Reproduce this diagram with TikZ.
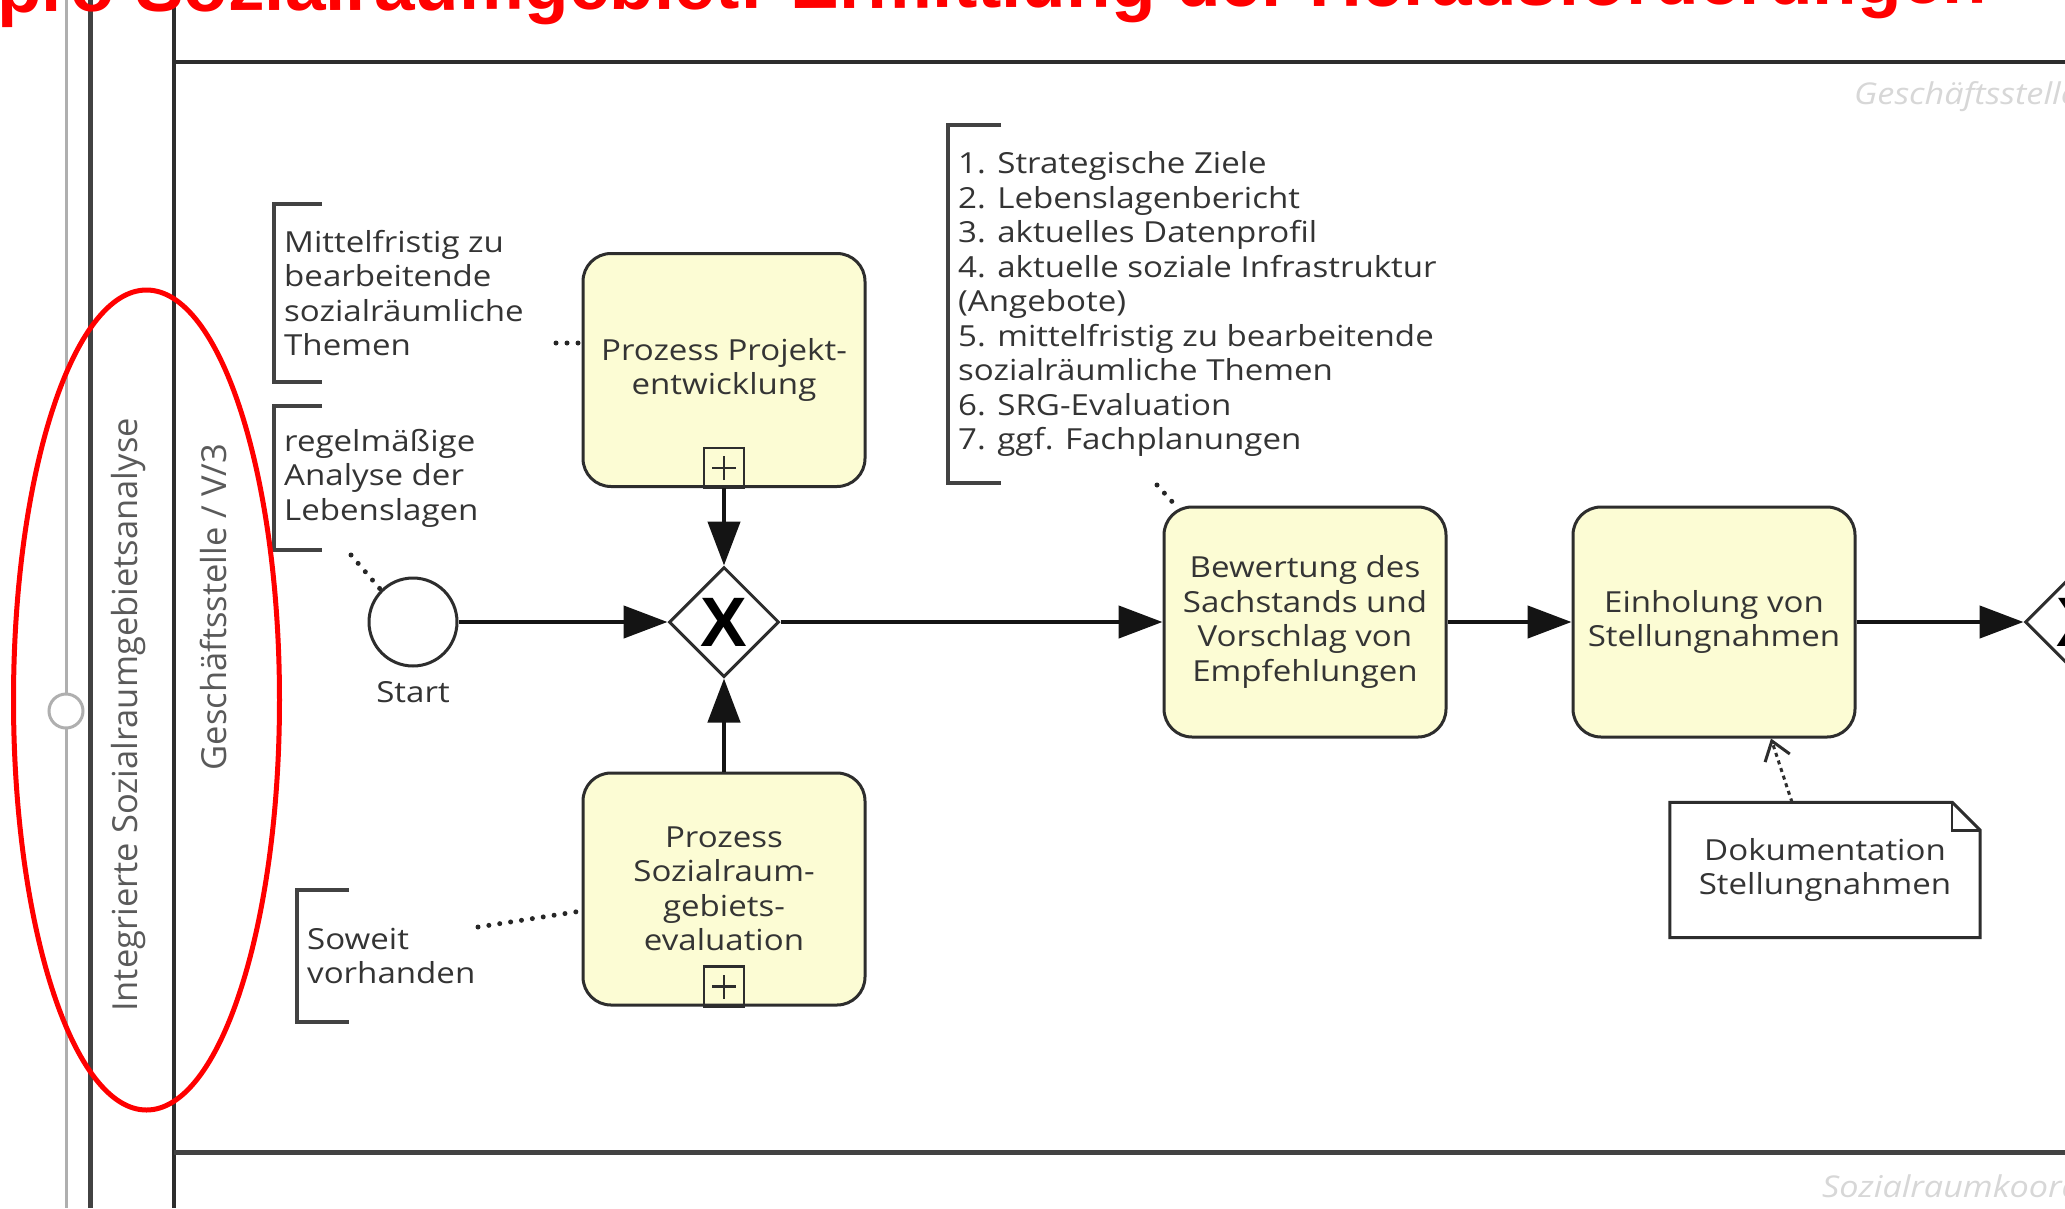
\documentclass[tikz,border=0pt]{standalone}
\usepackage{fontspec}
\setmainfont{Open Sans}[FakeStretch=1.14]
\newfontfamily\lanefont{Open Sans}
\newfontfamily\headfont{Liberation Sans}
\usetikzlibrary{arrows.meta,calc,shapes.geometric}

\definecolor{ink}{RGB}{52,52,52}
\definecolor{rule}{RGB}{45,45,45}
\definecolor{taskfill}{RGB}{252,252,212}
\definecolor{faint}{RGB}{215,215,215}
\definecolor{lanegray}{RGB}{90,90,90}
\definecolor{poolgray}{RGB}{175,175,175}

\tikzset{
  txt/.style={font=\fontsize{29pt}{34.5pt}\selectfont, text=ink},
  flow/.style={draw=black!92, line width=4.5pt, -{Triangle[length=44pt,width=32pt]}},
  task/.style={txt, draw=rule, line width=3pt, fill=taskfill, rounded corners=28pt,
    minimum width=282pt, minimum height=230pt, align=center, inner sep=0pt},
  gateway/.style={diamond, draw=rule, line width=3pt, fill=white, minimum size=110pt, inner sep=0pt},
  event/.style={circle, draw=rule, line width=3pt, fill=white, minimum size=88pt, inner sep=0pt},
  note/.style={txt, anchor=west, align=left, inner xsep=10pt, inner ysep=0pt},
  bracket/.style={draw=rule!90, line width=4pt},
  assoc/.style={draw=black!85, line width=5pt, line cap=round, dash pattern=on 0pt off 11pt},
  dataflow/.style={draw=rule, line width=3pt, dash pattern=on 4pt off 4pt,
    -{Straight Barb[length=18pt,width=26pt]}},
  lane/.style={draw=rule, line width=4pt},
  lanelabel/.style={rotate=90, text=lanegray, font=\lanefont\fontsize{34.5pt}{38pt}\selectfont, inner sep=0pt},
  faintlabel/.style={text=faint, font=\itshape\fontsize{30pt}{33pt}\selectfont, anchor=west, inner sep=0pt},
  xmark/.style={font=\headfont\bfseries\fontsize{70pt}{70pt}\selectfont, inner sep=0pt, text=black},
  marker/.style={draw=rule, line width=2.5pt},
}

% collapsed sub-process marker at the bottom of a task
\newcommand\subprocmark[1]{%
  \draw[marker] ([xshift=-20pt]#1.south) rectangle ([xshift=20pt,yshift=40pt]#1.south);
  \draw[marker] ([yshift=8pt]#1.south) -- ([yshift=32pt]#1.south)
    ([xshift=-12pt,yshift=20pt]#1.south) -- ([xshift=12pt,yshift=20pt]#1.south);}

\begin{document}
\begin{tikzpicture}[x=1pt, y=-1pt]
\useasboundingbox (0,0) rectangle (2065,1208);
\fill[white] (0,0) rectangle (2065,1208);
\clip (0,0) rectangle (2065,1208);

% pool and lane borders
\draw[poolgray, line width=3pt] (66,0) -- (66,1208);
\draw[rule!90, line width=5pt] (90,0) -- (90,1208);
\draw[lane] (174,0) -- (174,1208);
\draw[lane] (174,62) -- (2070,62);
\draw[rule!90, line width=5pt] (174,1152) -- (2070,1152);
\node[circle, draw=poolgray, line width=3pt, fill=white, minimum size=34pt, inner sep=0pt] (pin) at (66,711) {};

% lane titles
\node[lanelabel] (lane1) at (129,715) {Integrierte Sozialraumgebietsanalyse};
\node[lanelabel] (lane2) at (213,607) {Geschäftsstelle / V/3};
\node[faintlabel] (gsright) at (1854,97) {Geschäftsstelle};
\node[faintlabel] (srright) at (1822,1186) {Sozialraumkoordination};

% events, gateways, tasks
\node[event] (start) at (413,622) {};
\node[txt] (startlbl) at (413,692) {Start};
\node[gateway] (gw) at (724,622) {};
\node[xmark] at (gw) {X};
\node[gateway] (gw2) at (2080,622) {};
\node[xmark] at (gw2) {X};

\node[task, minimum height=233pt] (pe) at (724,370) {Prozess Projekt-\\entwicklung};
\node[task, minimum height=232pt] (se) at (724,889) {Prozess\\Sozialraum-\\gebiets-\\evaluation};
\node[task] (bew) at (1305,622) {Bewertung des\\Sachstands und\\Vorschlag von\\Empfehlungen};
\node[task] (ein) at (1714,622) {Einholung von\\Stellungnahmen};
\subprocmark{pe}
\subprocmark{se}

% data object
\node[txt, minimum width=310pt, minimum height=135pt, align=center, inner sep=0pt] (doc) at (1825,870) {Dokumentation\\Stellungnahmen};
\draw[draw=rule, line width=3pt, fill=white] (doc.south west) -- (doc.north west) -- ([xshift=-28pt]doc.north east)
  -- ([yshift=-28pt]doc.north east) -- (doc.south east) -- cycle;
\draw[draw=rule, line width=2.5pt] ([xshift=-28pt]doc.north east) |- ([yshift=-28pt]doc.north east);
\node[txt, align=center, inner sep=0pt] at (doc) {Dokumentation\\Stellungnahmen};

% text annotations
\node[note, minimum height=178pt] (n1) at (274,293) {Mittelfristig zu\\bearbeitende\\sozialräumliche\\Themen};
\node[note, minimum height=144pt] (n2) at (274,478) {regelmäßige\\Analyse der\\Lebenslagen};
\node[note, minimum height=132pt] (n3) at (297,956) {Soweit\\vorhanden};
\node[note, minimum height=358pt] (n4) at (948,304) {1. Strategische Ziele\\2. Lebenslagenbericht\\3. aktuelles Datenprofil\\4. aktuelle soziale Infrastruktur\\(Angebote)\\5. mittelfristig zu bearbeitende\\sozialräumliche Themen\\6. SRG-Evaluation\\7. ggf. Fachplanungen};
\foreach \n/\arm in {n1/48, n2/48, n3/52, n4/53}{
  \draw[bracket] ([xshift=\arm pt]\n.north west) -- (\n.north west) -- (\n.south west) -- ([xshift=\arm pt]\n.south west);
}

% associations
\coordinate (c1) at (556,343);
\coordinate (c2) at (351,555);
\coordinate (c3) at (478,927);
\coordinate (c4) at (1157,485);
\draw[assoc] (c1) -- (c1 -| pe.west);
\draw[assoc] (c2) -- (start.135);
\draw[assoc] (c3) -- ([yshift=-22pt]se.west);
\draw[assoc] (c4) -- (bew.138);
\draw[dataflow] ([xshift=-33pt]doc.north) -- ([xshift=57pt]ein.south);

% sequence flows
\draw[flow] (start.east) -- (gw.west);
\draw[flow] (pe.south) -- (gw.north);
\draw[flow] (se.north) -- (gw.south);
\draw[flow] (gw.east) -- (bew.west);
\draw[flow] (bew.east) -- (ein.west);
\draw[flow] (ein.east) -- (gw2.west);

% highlight
\draw[red, line width=5pt] (146.5,700) ellipse [x radius=133pt, y radius=410pt];

% heading
\node[anchor=base west, rotate=0.25, inner sep=0pt, text=red,
  font=\headfont\bfseries\fontsize{73pt}{80pt}\selectfont] (title) at (-3,12)
  {pro Sozialraumgebiet: Ermittlung der Herausforderungen};
\end{tikzpicture}
\end{document}
